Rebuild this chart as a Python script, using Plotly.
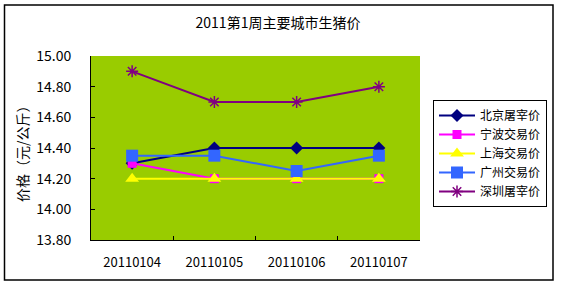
import plotly.graph_objects as go

dates = ["20110104", "20110105", "20110106", "20110107"]
beijing = [14.30, 14.40, 14.40, 14.40]
ningbo = [14.30, 14.20, 14.20, 14.20]
shanghai = [14.20, 14.20, 14.20, 14.20]
guangzhou = [14.35, 14.35, 14.25, 14.35]
shenzhen = [14.90, 14.70, 14.70, 14.80]

names = ["北京屠宰价", "宁波交易价", "上海交易价", "广州交易价", "深圳屠宰价"]
series = [beijing, ningbo, shanghai, guangzhou, shenzhen]
colors = ["#000080", "#FF00FF", "#FFFF00", "#3366FF", "#800080"]
symbols = ["diamond", "square", "triangle-up", "square", "asterisk-open"]
sizes = [10, 9, 12, 12, 10]

FONT = "Noto Sans CJK SC"
W, H = 565, 286
L, R, T, B = 91, 420, 56, 240

fig = go.Figure()
for nm, ys, c, s, sz in zip(names, series, colors, symbols, sizes):
    marker = dict(symbol=s, size=sz, color=c)
    if s == "asterisk-open":
        marker["line"] = dict(color=c, width=1.5)
    else:
        marker["line"] = dict(width=0)
    fig.add_trace(go.Scatter(x=dates, y=ys, name=nm, mode="lines+markers",
                             line=dict(color=c, width=2), marker=marker))

def px_x(p):
    return (p - L) / (R - L)

def px_y(p):
    return (B - p) / (B - T)

fig.update_layout(
    width=W, height=H,
    margin=dict(l=L, r=W - R, t=T, b=H - B),
    paper_bgcolor="white",
    plot_bgcolor="#99CC00",
    font=dict(family=FONT, size=13, color="black"),
    title=dict(text="2011第1周主要城市生猪价", x=278 / W, xanchor="center",
               y=1 - 23 / H, yanchor="middle", font=dict(size=14, family=FONT)),
    showlegend=True,
    legend=dict(x=px_x(433), y=px_y(100), xanchor="left", yanchor="top",
                bordercolor="black", borderwidth=1, bgcolor="white",
                font=dict(size=12, family=FONT), tracegroupgap=0,
                itemwidth=36),
    xaxis=dict(type="category", range=[-0.5, 3.5], showline=True, linecolor="black",
               linewidth=1, ticks="inside", ticklen=4, tickcolor="black",
               tickson="boundaries", showgrid=False, zeroline=False,
               tickfont=dict(size=13), ticklabelstandoff=10),
    yaxis=dict(range=[13.8, 15.0], dtick=0.2, tick0=13.8, tickformat=".2f",
               showline=True, linecolor="black", linewidth=1, ticks="inside",
               ticklen=4, tickcolor="black", showgrid=False, zeroline=False,
               tickfont=dict(size=14), ticklabelstandoff=16),
    annotations=[dict(text="价格（元/公斤）", textangle=-90, xref="paper", yref="paper",
                      x=px_x(22), y=px_y(150), showarrow=False,
                      font=dict(size=14, family=FONT), xanchor="center", yanchor="middle")],
    shapes=[dict(type="rect", xref="paper", yref="paper",
                 x0=px_x(4.5), x1=px_x(553), y0=px_y(280), y1=px_y(5),
                 line=dict(color="black", width=1.5), fillcolor="rgba(0,0,0,0)",
                 layer="above")],
)

fig.write_html("out.html")
